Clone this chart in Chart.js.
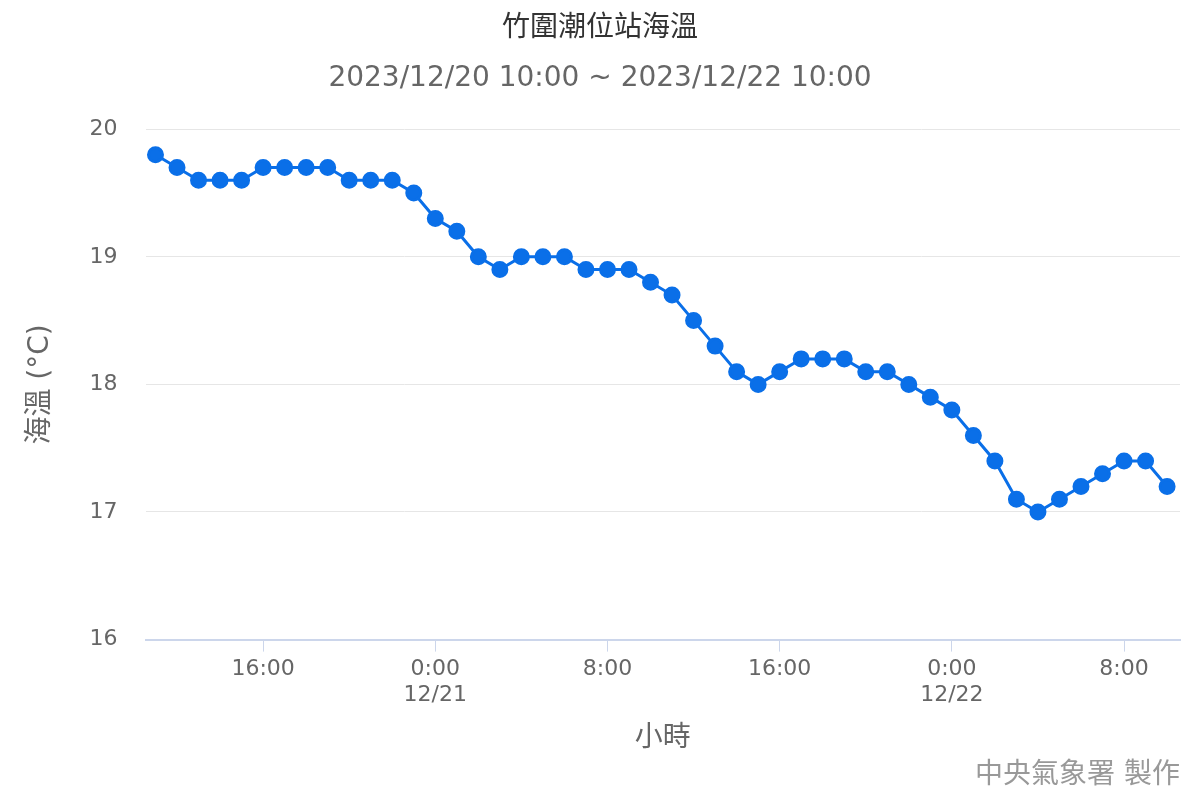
<!DOCTYPE html>
<html>
<head>
<meta charset="utf-8">
<script src="https://cdn.jsdelivr.net/npm/chart.js@4"></script>
<style>
  body { margin: 0; background: #fff; }
  #wrap { width: 1200px; height: 800px; }
</style>
</head>
<body>
<div id="wrap"><canvas id="c"></canvas></div>
<script>
// hourly readings from 2023/12/20 11:00 to 2023/12/22 10:00
const hours = [11,12,13,14,15,16,17,18,19,20,21,22,23,
  0,1,2,3,4,5,6,7,8,9,10,11,12,13,14,15,16,17,18,19,20,21,22,23,
  0,1,2,3,4,5,6,7,8,9,10];
const seaTemp = [19.8,19.7,19.6,19.6,19.6,19.7,19.7,19.7,19.7,19.6,19.6,19.6,19.5,
  19.3,19.2,19.0,18.9,19.0,19.0,19.0,18.9,18.9,18.9,18.8,18.7,18.5,18.3,18.1,18.0,18.1,18.2,18.2,18.2,18.1,18.1,18.0,17.9,
  17.8,17.6,17.4,17.1,17.0,17.1,17.2,17.3,17.4,17.4,17.2];
const tickIndex = [5, 13, 21, 29, 37, 45];
const tickLabels = [['16:00'], ['0:00', '12/21'], ['8:00'], ['16:00'], ['0:00', '12/22'], ['8:00']];

const FONT = "'DejaVu Sans', 'Noto Sans CJK TC', sans-serif";

const credit = {
  id: 'credit',
  afterDraw(chart) {
    const ctx = chart.ctx;
    ctx.save();
    ctx.font = '28px ' + FONT;
    ctx.fillStyle = '#999';
    ctx.textAlign = 'right';
    ctx.textBaseline = 'middle';
    ctx.fillText('中央氣象署 製作', 1180, 776);
    ctx.restore();
  }
};

new Chart(document.getElementById('c'), {
  type: 'line',
  data: {
    datasets: [{
      data: seaTemp.map((v, i) => ({ x: i, y: v })),
      borderColor: '#0a6fe8',
      backgroundColor: '#0a6fe8',
      borderWidth: 3,
      pointRadius: 7,
      pointHoverRadius: 7,
      tension: 0
    }]
  },
  options: {
    responsive: true,
    maintainAspectRatio: false,
    animation: false,
    layout: { padding: { left: 20, right: 20, bottom: 40, top: 0 } },
    plugins: {
      legend: { display: false },
      tooltip: { enabled: false },
      title: {
        display: true, text: '竹圍潮位站海溫', color: '#333',
        font: { family: FONT, size: 28, weight: 'normal' }, padding: { top: 12, bottom: 16 }
      },
      subtitle: {
        display: true, text: '2023/12/20 10:00 ~ 2023/12/22 10:00', color: '#666',
        font: { family: FONT, size: 28 }, padding: { bottom: 34 }
      }
    },
    scales: {
      x: {
        type: 'linear',
        min: -0.46, max: 47.6,
        afterBuildTicks(axis) { axis.ticks = tickIndex.map(v => ({ value: v })); },
        ticks: {
          callback: (v) => tickLabels[tickIndex.indexOf(v)],
          color: '#666', font: { family: FONT, size: 22 }, maxRotation: 0, padding: 4
        },
        grid: { drawOnChartArea: false, drawTicks: true, tickLength: 12, color: '#ccd6eb' },
        border: { color: '#ccd6eb', width: 2 },
        title: { display: true, text: '小時', color: '#666', font: { family: FONT, size: 28 }, padding: { top: 10 } }
      },
      y: {
        min: 16, max: 20,
        ticks: { stepSize: 1, color: '#666', font: { family: FONT, size: 22 }, padding: 28 },
        grid: { color: '#e6e6e6', drawTicks: false },
        border: { display: false },
        title: { display: true, text: '海溫 (°C)', color: '#666', font: { family: FONT, size: 28 } }
      }
    }
  },
  plugins: [credit]
});
</script>
</body>
</html>
